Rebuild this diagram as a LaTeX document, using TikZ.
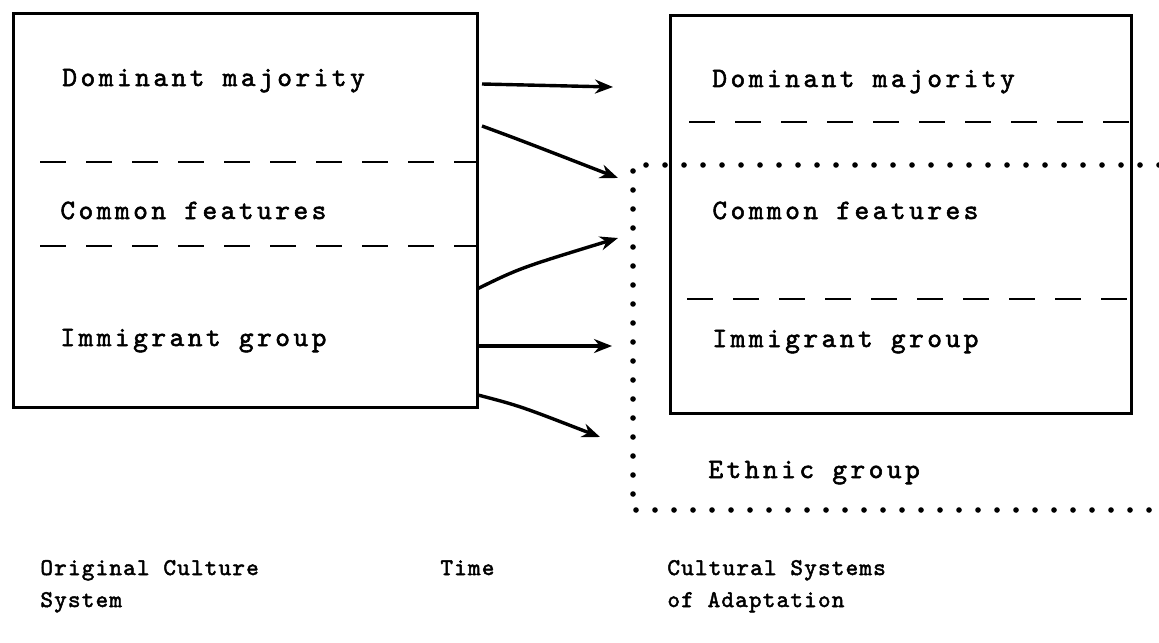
\documentclass[tikz,border=0pt]{standalone}
\usepackage{fontspec}
\usepackage{tikz}
\usetikzlibrary{arrows.meta, positioning}
\newfontfamily\typefont{lmmono10-regular.otf}[LetterSpace=12.5, FakeBold=2]
\newfontfamily\capfont{lmmono10-regular.otf}[LetterSpace=5, FakeBold=2]
\tikzstyle{panel} = [draw, line width=1.5pt, inner sep=0pt]
\tikzstyle{label} = [anchor=base west, inner sep=0pt, font=\typefont\fontsize{14}{16}\selectfont]
\tikzstyle{caption} = [anchor=base west, inner sep=0pt, align=left, font=\capfont\fontsize{12}{16}\selectfont]
\tikzstyle{divide} = [line width=1.4pt, dash pattern=on 13pt off 10pt]
\tikzstyle{ethnic} = [line width=2.8pt, line cap=round, dash pattern=on 0pt off 9.5pt]
\tikzstyle{arrow} = [line width=1.7pt, -{Stealth[length=9pt, width=7pt]}]

\begin{document}
\begin{tikzpicture}[x=0.5pt, y=-0.5pt]
  \useasboundingbox (0,0) rectangle (1159,642);
  % boxes
  \node[panel, minimum width=232pt, minimum height=197pt, anchor=north west] (orig) at (12,12) {};
  \node[panel, minimum width=230.5pt, minimum height=199pt, anchor=north west] (adapt) at (669,14) {};
  % original culture system
  \node[label] (domL) at (62,86) {Dominant majority};
  \node[label] (comL) at (60,219) {Common features};
  \node[label] (immL) at (60,346) {Immigrant group};
  \draw[divide] (40,162) -- (orig.east |- 0,162);
  \draw[divide] (40,246) -- (orig.east |- 0,246);
  % cultural systems of adaptation
  \node[label] (domR) at (712,87) {Dominant majority};
  \node[label] (comR) at (712,219) {Common features};
  \node[label] (immR) at (712,347) {Immigrant group};
  \node[label] (eth) at (708,478) {Ethnic group};
  \draw[divide] (689,122) -- (adapt.east |- 0,122);
  \draw[divide] (687,299) -- (adapt.east |- 0,299);
  \draw[ethnic] (1159,165) -- (633,165) -- (633,510) -- (1159,510);
  % arrows
  \coordinate (s1) at (482,84);  \coordinate (t1) at (613,87);
  \coordinate (s2) at (482,126); \coordinate (t2) at (618,178);
  \coordinate (s3) at (477,289); \coordinate (t3) at (618,238);
  \coordinate (s4) at (476,346); \coordinate (t4) at (612,346);
  \coordinate (s5) at (478,395); \coordinate (t5) at (600,437);
  \draw[arrow] (s1) -- (t1);
  \draw[arrow] (s2) .. controls (520,140) .. (t2);
  \draw[arrow] (s3) .. controls (520,268) .. (t3);
  \draw[arrow] (s4) -- (t4);
  \draw[arrow] (s5) .. controls (520,406) .. (t5);
  % captions
  \node[caption] (orgcap) at (40,607) {Original Culture\\System};
  \node[caption] (time) at (440,575) {Time};
  \node[caption] (adpcap) at (667,607) {Cultural Systems\\of Adaptation};
\end{tikzpicture}
\end{document}
